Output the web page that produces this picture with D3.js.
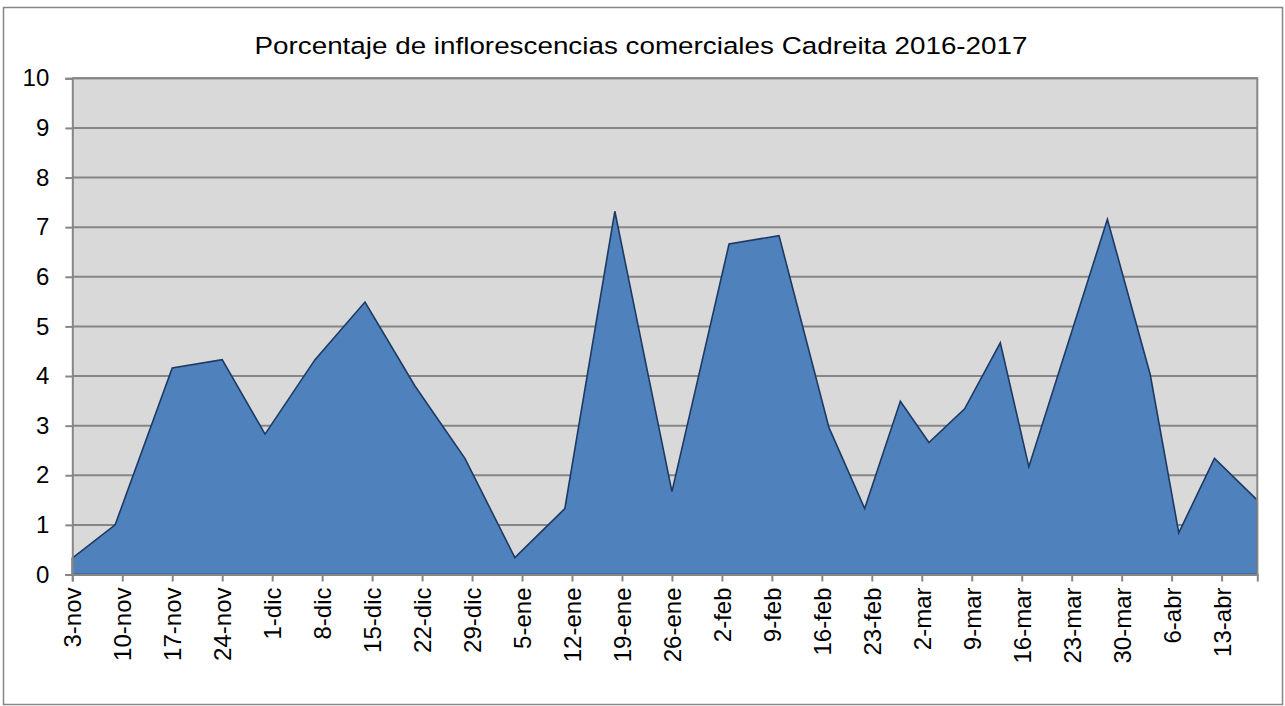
<!DOCTYPE html>
<html>
<head>
<meta charset="utf-8">
<script src="https://cdn.jsdelivr.net/npm/d3@7"></script>
<style>
  body { margin: 0; background: #fff; }
  text { font-family: "Liberation Sans", Arial, sans-serif; fill: #000; }
</style>
</head>
<body>
<div id="chart"></div>
<script>
// sampling dates (2016-2017) and % of commercial inflorescences
var dates = ["2016-11-03", "2016-11-09", "2016-11-17", "2016-11-24", "2016-11-30",
             "2016-12-07", "2016-12-14", "2016-12-21", "2016-12-28", "2017-01-04",
             "2017-01-11", "2017-01-18", "2017-01-26", "2017-02-03", "2017-02-10",
             "2017-02-17", "2017-02-22", "2017-02-27", "2017-03-03", "2017-03-08",
             "2017-03-13", "2017-03-17", "2017-03-28", "2017-04-03", "2017-04-07",
             "2017-04-12", "2017-04-18"];
var values = [0.33, 1.0, 4.16, 4.33, 2.83,
              4.33, 5.49, 3.8, 2.34, 0.34,
              1.33, 7.32, 1.67, 6.66, 6.83,
              2.96, 1.33, 3.49, 2.66, 3.34,
              4.67, 2.17, 7.16, 4.03, 0.84,
              2.34, 1.5];
var tickLabels = ["3-nov", "10-nov", "17-nov", "24-nov", "1-dic", "8-dic", "15-dic",
                  "22-dic", "29-dic", "5-ene", "12-ene", "19-ene", "26-ene", "2-feb",
                  "9-feb", "16-feb", "23-feb", "2-mar", "9-mar", "16-mar", "23-mar",
                  "30-mar", "6-abr", "13-abr"];
var yTicks = [0, 1, 2, 3, 4, 5, 6, 7, 8, 9, 10];
var title = "Porcentaje de inflorescencias comerciales Cadreita 2016-2017";

var W = 1285, H = 706;
var margin = {left: 72.3, right: 27.7, top: 78.3, bottom: 131.5};
var w = W - margin.left - margin.right, h = H - margin.top - margin.bottom;

var parse = d3.utcParse("%Y-%m-%d");
var data = dates.map(function(d, i) { return {date: parse(d), value: values[i]}; });
var tickDates = tickLabels.map(function(l, i) { return d3.utcDay.offset(data[0].date, 7 * i); });

var svg = d3.select("#chart").append("svg")
    .attr("width", W)
    .attr("height", H);

// outer chart border
svg.append("rect")
    .attr("x", 3.5).attr("y", 7.5)
    .attr("width", 1279).attr("height", 697)
    .attr("fill", "#fff")
    .attr("stroke", "#868686")
    .attr("stroke-width", 1.5);

svg.append("text")
    .attr("x", 641)
    .attr("y", 54)
    .attr("text-anchor", "middle")
    .attr("font-size", 24.5)
    .attr("textLength", 773)
    .attr("lengthAdjust", "spacingAndGlyphs")
    .text(title);

var g = svg.append("g").attr("transform", "translate(" + margin.left + "," + margin.top + ")");

var x = d3.scaleUtc()
    .domain(d3.extent(data, function(d) { return d.date; }))
    .range([0, w]);
var y = d3.scaleLinear()
    .domain([0, 10])
    .range([h, 0]);

// plot background
g.append("rect")
    .attr("width", w).attr("height", h)
    .attr("fill", "#d9d9d9");

// gridlines
g.selectAll(".grid")
    .data(yTicks)
    .enter().append("line")
    .attr("x1", 0).attr("x2", w)
    .attr("y1", y).attr("y2", y)
    .attr("stroke", "#868686")
    .attr("stroke-width", 2);

var area = d3.area()
    .x(function(d) { return x(d.date); })
    .y0(h)
    .y1(function(d) { return y(d.value); });

g.append("path")
    .datum(data)
    .attr("d", area)
    .attr("fill", "#4f81bd")
    .attr("stroke", "#1c3a63")
    .attr("stroke-width", 1.6)
    .attr("stroke-linejoin", "miter");

// plot border on the right and top
g.append("path")
    .attr("d", "M0,0H" + w + "V" + h)
    .attr("fill", "none")
    .attr("stroke", "#868686")
    .attr("stroke-width", 2);

// y axis
var yAxis = g.append("g")
    .call(d3.axisLeft(y).tickValues(yTicks).tickSize(7).tickPadding(16).tickFormat(d3.format("d")));
yAxis.selectAll("text").attr("font-size", 24).style("font-family", "Liberation Sans, Arial, sans-serif");

// x axis
var xAxis = g.append("g")
    .attr("transform", "translate(0," + h + ")")
    .call(d3.axisBottom(x).tickValues(tickDates).tickSize(7)
        .tickFormat(function(d, i) { return tickLabels[i]; }));
xAxis.selectAll("text")
    .attr("font-size", 24)
    .style("font-family", "Liberation Sans, Arial, sans-serif")
    .attr("text-anchor", "end")
    .attr("transform", "rotate(-90)")
    .attr("x", -13)
    .attr("y", 0)
    .attr("dy", "0.35em");

svg.selectAll(".domain, .tick line").attr("stroke", "#868686").attr("stroke-width", 2);
</script>
</body>
</html>
